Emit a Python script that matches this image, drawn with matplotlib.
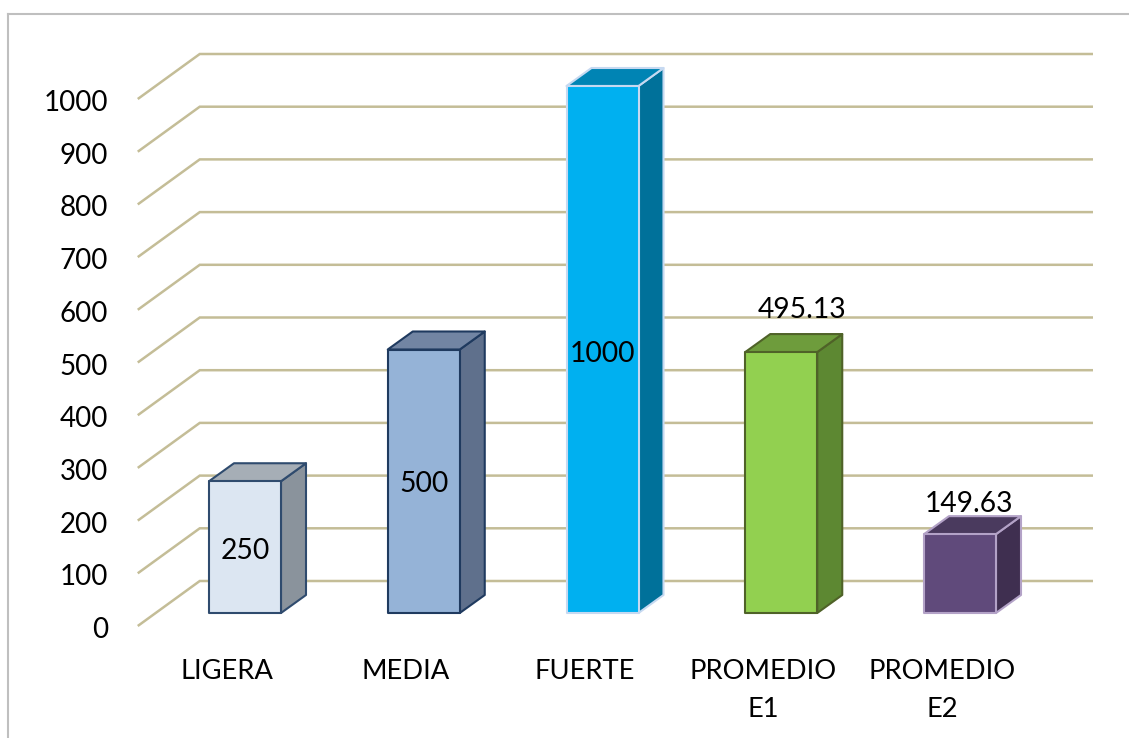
import matplotlib
matplotlib.use("Agg")
import matplotlib.pyplot as plt
from matplotlib.patches import Polygon

categories = ["LIGERA", "MEDIA", "FUERTE", "PROMEDIO\nE1", "PROMEDIO\nE2"]
values = [250, 500, 1000, 495.13, 149.63]
value_labels = ["250", "500", "1000", "495.13", "149.63"]
y_ticks = [0, 100, 200, 300, 400, 500, 600, 700, 800, 900, 1000]

front_colors = ["#DCE6F2", "#95B3D7", "#00B0F0", "#92D050", "#604A7B"]
side_colors = ["#8A939C", "#5F708C", "#00719A", "#5D8832", "#3F2F50"]
top_colors = ["#A6AEB6", "#7285A3", "#0084B4", "#6E9C3C", "#4A3A5E"]
edge_colors = ["#2F4B6E", "#1F3A5F", "#C6D9F1", "#4F6228", "#B3A2C7"]

W, H = 1129, 738
plt.rcParams["font.family"] = ["Lato", "DejaVu Sans"]
fig = plt.figure(figsize=(W / 100, H / 100), dpi=100, facecolor="white")
ax = fig.add_axes([0, 0, 1, 1])

# scales: one category step = 178.75 px, 1000 units = 527 px
step = 178.75
ppu = 0.527
ax.set_xlim((0 - 245) / step, (W - 245) / step)
ax.set_ylim((613 - H) / ppu, 613 / ppu)
ax.axis("off")


def px_x(p):
    return p / step


def px_y(p):
    return p / ppu


half = px_x(36)
dx, dy = px_x(25), px_y(18)
grid_c = "#C4BD97"
x_front, x_back, x_right = -0.6, -0.6 + px_x(62), (1093 - 245) / step
off_front, off_back = px_y(-13), px_y(32)

for v in y_ticks:
    ax.plot([x_front, x_back, x_right], [v + off_front, v + off_back, v + off_back],
            color=grid_c, lw=1.8, zorder=1, solid_capstyle="butt", solid_joinstyle="miter")
    ax.text(x_front - px_x(30), v + off_front - px_y(4), str(v), ha="right", va="center",
            fontsize=20, color="#000000", zorder=5)

for i, (v, fc, sc, tc, ec) in enumerate(zip(values, front_colors, side_colors, top_colors, edge_colors)):
    l, r = i - half, i + half
    front = [(l, 0), (r, 0), (r, v), (l, v)]
    side = [(r, 0), (r + dx, dy), (r + dx, v + dy), (r, v)]
    top = [(l, v), (r, v), (r + dx, v + dy), (l + dx, v + dy)]
    for pts, c in ((side, sc), (top, tc), (front, fc)):
        ax.add_patch(Polygon(pts, closed=True, facecolor=c, edgecolor=ec, lw=1.5,
                             joinstyle="round", zorder=3))

label_pos = [
    (0, 125 - px_y(4)),
    (1, 250 - px_y(3)),
    (2, 500 - px_y(4)),
    (3 + px_x(21), values[3] + px_y(42)),
    (4 + px_x(9), values[4] + px_y(30)),
]
for (x, y), s in zip(label_pos, value_labels):
    ax.text(x, y, s, ha="center", va="center", fontsize=20.3, color="#000000", zorder=6)

for i, c in enumerate(categories):
    ax.text(i - px_x(18), px_y(-46), c, ha="center", va="top", fontsize=19.7,
            linespacing=1.66, color="#000000", zorder=5)

# chart-area frame
fig.add_artist(plt.Line2D([8 / W, 8 / W], [0, 1 - 14 / H], color="#BFBFBF", lw=1.5))
fig.add_artist(plt.Line2D([8 / W, 1], [1 - 14 / H, 1 - 14 / H], color="#BFBFBF", lw=1.5))

fig.savefig("out.png", dpi=100, facecolor="white")
